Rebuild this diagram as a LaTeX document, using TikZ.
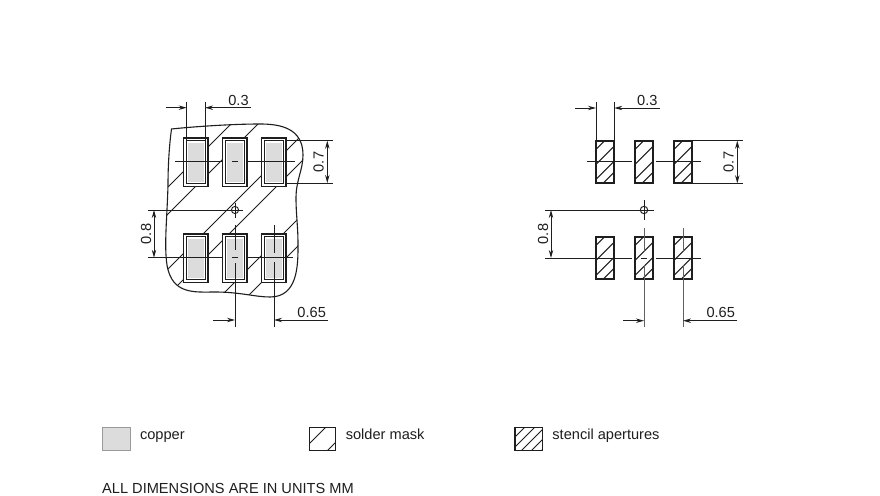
\documentclass[tikz,border=0pt]{standalone}
\usepackage{fontspec}
\setmainfont{Liberation Sans}
\usetikzlibrary{arrows.meta}
\definecolor{ink}{HTML}{1E1E1E}
\definecolor{copperfill}{HTML}{DCDCDC}
\tikzset{
  thinl/.style={draw=ink,line width=0.95pt},
  hatchl/.style={draw=ink,line width=1pt},
  centrel/.style={draw=ink,line width=1pt},
  padout/.style={draw=ink,line width=1.7pt,fill=white},
  padin/.style={draw=ink,line width=1.1pt,fill=white},
  copperarea/.style={fill=copperfill,draw=none},
  apert/.style={draw=ink,line width=1.8pt},
  dimarrow/.style={draw=ink,line width=0.95pt,-{Stealth[length=8pt,width=4.4pt]}},
  dimboth/.style={draw=ink,line width=0.95pt,{Stealth[length=8pt,width=4.4pt]}-{Stealth[length=8pt,width=4.4pt]}},
  dimtext/.style={inner sep=0pt,font=\fontsize{14.6}{16}\selectfont,text=ink},
  legendtext/.style={inner sep=0pt,anchor=base west,font=\fontsize{14.6}{16}\selectfont,text=ink},
}
\begin{document}
\begin{tikzpicture}[x=1pt,y=-1pt]
\useasboundingbox (0,0) rectangle (880,495);
\fill[white] (0,0) rectangle (880,495);
% solder mask hatching
\begin{scope}
\clip (171.5,129) .. controls (190,127) and (230,124) .. (260,124) .. controls (280,124) and (303,128) .. (303,155) .. controls (303,170) and (296,180) .. (296,198) .. controls (296,215) and (298,225) .. (298,245) .. controls (298,265) and (298,297) .. (270,297) .. controls (255,297) and (240,292) .. (215,292) .. controls (195,292) and (172,295) .. (167,265) .. controls (164,245) and (167,220) .. (168,185) .. controls (168,160) and (170,140) .. (171.5,129) -- cycle;
\foreach \s in {355,382,437,463,517,544}
  \draw[hatchl] ({\s-100},100) -- ({\s-320},320);
\end{scope}
\draw[thinl,line width=1.1pt] (171.5,129) .. controls (190,127) and (230,124) .. (260,124) .. controls (280,124) and (303,128) .. (303,155) .. controls (303,170) and (296,180) .. (296,198) .. controls (296,215) and (298,225) .. (298,245) .. controls (298,265) and (298,297) .. (270,297) .. controls (255,297) and (240,292) .. (215,292) .. controls (195,292) and (172,295) .. (167,265) .. controls (164,245) and (167,220) .. (168,185) .. controls (168,160) and (170,140) .. (171.5,129) -- cycle;
% left pads
\foreach \px in {183.5,222.5,261.5}
  \foreach \py in {138,234}{
    \begin{scope}[shift={(\px,\py)}]
      \draw[padout] (0,0) rectangle (24.7,48.4);
      \draw[padin] (2.9,2.9) rectangle (21.8,45.5);
      \fill[copperarea] (4.6,4.6) rectangle (20.1,43.8);
    \end{scope}
  }
% left centre lines
\draw[centrel] (175,161.7) -- (222.5,161.7);
\draw[centrel] (232,161.7) -- (238,161.7);
\draw[centrel] (247.5,161.7) -- (295,161.7);
\draw[centrel] (147.5,257.7) -- (222.5,257.7);
\draw[centrel] (232,257.7) -- (238,257.7);
\draw[centrel] (247.5,257.7) -- (293,257.7);
\draw[centrel] (235,225) -- (235,250);
\draw[centrel] (235,263) -- (235,327);
\draw[centrel] (274,225) -- (274,253);
\draw[centrel] (274,262) -- (274,327);
% left target
\draw[thinl] (235,210) circle (3.6);
\draw[thinl] (147.5,210) -- (243,210);
\draw[thinl] (235,203) -- (235,218);
% left dimensions
\coordinate (la) at (186.7,107.7);
\coordinate (lb) at (205,107.7);
\draw[thinl] (186.7,101.5) -- (186.7,140);
\draw[thinl] (205,101.5) -- (205,140);
\draw[dimarrow] (165.7,107.7) -- (la);
\draw[dimarrow] (250.7,107.7) -- (lb);
\node[dimtext] (l03) at (238.5,100.5) {0.3};
\draw[thinl] (286,140.7) -- (332.7,140.7);
\draw[thinl] (286,183) -- (332.7,183);
\draw[dimboth] (327.3,140.7) -- (327.3,183);
\node[dimtext,rotate=90] (l07) at (318.5,162) {0.7};
\draw[dimboth] (154,210) -- (154,257.7);
\node[dimtext,rotate=90] (l08) at (146,234) {0.8};
\coordinate (lc) at (235,320);
\coordinate (ld) at (274,320);
\draw[dimarrow] (213,320) -- (lc);
\draw[dimarrow] (328,320) -- (ld);
\node[dimtext] (l065) at (311.7,312.5) {0.65};
% right apertures
\foreach \px in {595.7,634.7,673.7}
  \foreach \py in {140.7,236.7}{
    \begin{scope}[shift={(\px,\py)}]
      \clip (0,0) rectangle (18.6,42.6);
      \foreach \s in {9,24,39,50}
        \draw[hatchl] ({\s+5},-5) -- ({\s-55},55);
    \end{scope}
    \begin{scope}[shift={(\px,\py)}]
      \draw[apert] (0,0) rectangle (18.6,42.6);
    \end{scope}
  }
% right centre lines
\draw[centrel] (587.3,161.7) -- (632,161.7);
\draw[centrel] (656,161.7) -- (701,161.7);
\draw[centrel] (545,258) -- (632,258);
\draw[centrel] (641,258) -- (647,258);
\draw[centrel] (656,258) -- (701,258);
\draw[thinl,draw=ink!70] (644,228) -- (644,252);
\draw[thinl,draw=ink!70] (644,265) -- (644,327);
\draw[thinl,draw=ink!70] (683,228) -- (683,252);
\draw[thinl,draw=ink!70] (683,265) -- (683,327);
% right target
\draw[thinl] (644,210) circle (3.7);
\draw[thinl] (545,210) -- (654,210);
\draw[thinl] (644,200) -- (644,220);
% right dimensions
\coordinate (ra) at (596,108);
\coordinate (rb) at (614.3,108);
\draw[thinl] (596,101.5) -- (596,140.7);
\draw[thinl] (614.3,101.5) -- (614.3,140.7);
\draw[dimarrow] (575,108) -- (ra);
\draw[dimarrow] (660,108) -- (rb);
\node[dimtext] (r03) at (647.3,100.5) {0.3};
\draw[thinl] (692.3,140.7) -- (743,140.7);
\draw[thinl] (692.3,183.3) -- (743,183.3);
\draw[dimboth] (737.3,140.7) -- (737.3,183.3);
\node[dimtext,rotate=90] (r07) at (728.5,162) {0.7};
\draw[dimboth] (551,210) -- (551,258);
\node[dimtext,rotate=90] (r08) at (543,234) {0.8};
\coordinate (rc) at (644,320.7);
\coordinate (rd) at (683,320.7);
\draw[dimarrow] (623,320.7) -- (rc);
\draw[dimarrow] (737.3,320.7) -- (rd);
\node[dimtext] (r065) at (720.7,312.5) {0.65};
% legend
\draw[draw=ink!45,line width=1pt,fill=copperfill] (102.5,427.5) rectangle (130,450.5);
\node[legendtext] (t1) at (139.8,439.5) {copper};
\begin{scope}
\clip (309.5,427.5) rectangle (335.5,450.5);
\draw[hatchl] (305,448) -- (328,425);
\draw[hatchl] (326,452) -- (338,440);
\end{scope}
\draw[thinl,line width=1.1pt] (309.5,427.5) rectangle (335.5,450.5);
\node[legendtext] (t2) at (345.6,439.5) {solder mask};
\begin{scope}
\clip (515,427.5) rectangle (542.5,450.5);
\foreach \s in {952,962,972,982,992}
  \draw[thinl] ({\s-400},400) -- ({\s-480},480);
\end{scope}
\draw[thinl,line width=1.1pt] (515,427.5) rectangle (542.5,450.5);
\node[legendtext] (t3) at (552.2,439.5) {stencil apertures};
\node[legendtext] (t4) at (102,493.8) {ALL DIMENSIONS ARE IN UNITS MM};
\end{tikzpicture}
\end{document}
